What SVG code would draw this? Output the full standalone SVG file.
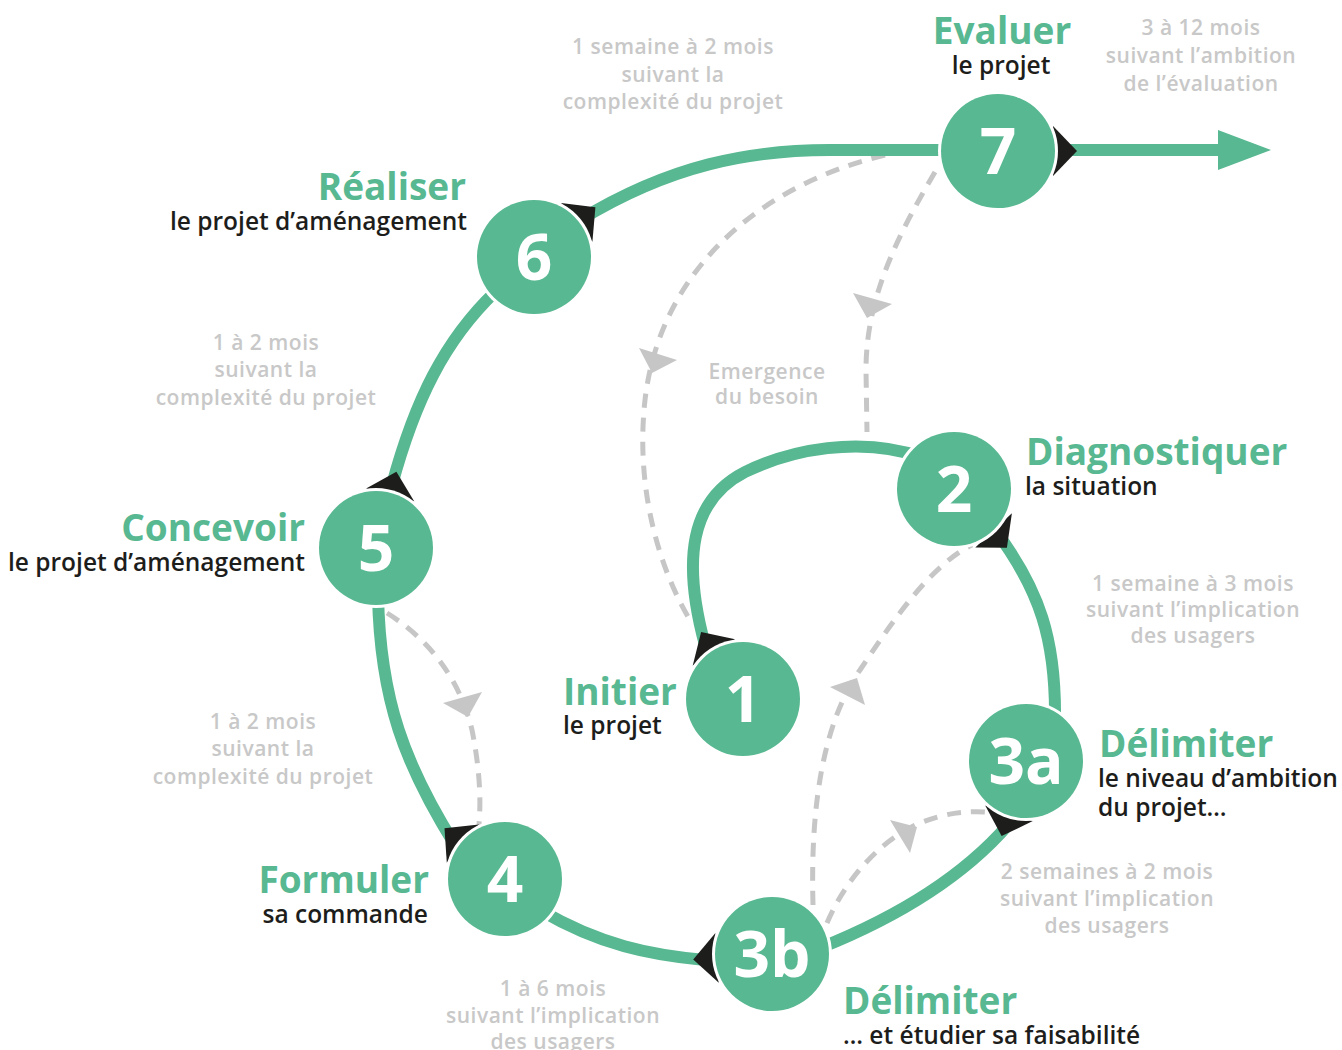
<svg xmlns="http://www.w3.org/2000/svg" width="1342" height="1050" viewBox="0 0 1342 1050">
<style>
.ln{fill:none;stroke:#57b891;stroke-width:12}
.ds{fill:none;stroke:#c6c6c6;stroke-width:5;stroke-dasharray:14 10}
.ah{fill:#c6c6c6}
.bk{fill:#1d1d1b}
.halo{fill:#ffffff}
.disc{fill:#57b891}
.n{font-family:"Open Sans","Noto Sans",sans-serif;font-weight:700;font-size:64px;fill:#ffffff;text-anchor:middle}
.t{font-family:"Open Sans","Noto Sans",sans-serif;font-weight:700;font-size:37px;fill:#57b891}
.s{font-family:"Open Sans","Noto Sans",sans-serif;font-weight:600;font-size:24.5px;fill:#1d1d1b}
.g{font-family:"Open Sans","Noto Sans",sans-serif;font-weight:600;font-size:21px;letter-spacing:0.5px;fill:#c8c8c8;text-anchor:middle}
.r{text-anchor:end}
.c{text-anchor:middle}
</style>
<rect width="1342" height="1050" fill="#ffffff"/>
<g id="connectors">
  <path class="ds" d="M885,155 C760,185 660,270 645,400 C635,490 660,570 690,620"/>
  <polygon class="ah" points="639,348 677,360 652,373"/>
  <path class="ds" d="M935,172 C895,240 866,300 866,370 L867,432"/>
  <polygon class="ah" points="853,293 892,304 867,318"/>
  <path class="ds" d="M813,905 C810,800 825,720 860,670 C890,625 930,565 972,545"/>
  <polygon class="ah" points="830,687 857,678 865,705"/>
  <path class="ds" d="M827,923 C845,880 880,840 920,823 C945,813 965,811 985,812"/>
  <polygon class="ah" points="890,820 917,827 910,853"/>
  <path class="ds" d="M387,613 C430,640 460,680 472,730 C480,770 481,800 479,825"/>
  <polygon class="ah" points="443,703 482,692 468,717"/>

  <path class="ln" d="M705,645 C682,560 690,500 745,472 C790,450 860,435 925,458"/>
  <path class="ln" d="M995,530 C1040,590 1056,640 1055,720"/>
  <path class="ln" d="M1008,825 C960,880 890,920 820,948"/>
  <path class="ln" d="M705,960 C650,955 600,945 540,910"/>
  <path class="ln" d="M455,845 C405,765 380,700 378,595"/>
  <path class="ln" d="M392,485 C415,400 445,340 495,292"/>
  <path class="ln" d="M580,220 C670,165 750,150 830,150 L950,150"/>
  <path class="ln" d="M1060,150 L1225,150"/>
  <polygon fill="#57b891" points="1218,130 1271,150 1218,170"/>

  <polygon class="bk" points="735.1,639.2 692.7,665.7 701.1,632.0"/>
  <polygon class="bk" points="975.3,547.4 1011.9,513.3 1006.9,547.7"/>
  <polygon class="bk" points="985.2,805.6 1032.8,821.0 1001.6,836.1"/>
  <polygon class="bk" points="715.4,932.9 718.8,982.7 693.2,959.5"/>
  <polygon class="bk" points="479,824.4 446.8,862.8 444.5,828.2"/>
  <polygon class="bk" points="414.3,501.4 366.1,488.4 396.4,471.7"/>
  <polygon class="bk" points="592.4,241.8 561,203 595.4,207.3"/>
  <polygon class="bk" points="1053,126 1053,176 1077,151"/>
</g>

<g id="node-1">
  <circle class="halo" cx="743" cy="699" r="60"/>
  <circle class="disc" cx="743" cy="699" r="57"/>
  <text class="n" x="743" y="722">1</text>
  <text class="t" x="563" y="705">Initier</text>
  <text class="s" x="563" y="734">le projet</text>
</g>
<g id="node-2">
  <circle class="halo" cx="954" cy="489" r="60"/>
  <circle class="disc" cx="954" cy="489" r="57"/>
  <text class="n" x="954" y="512">2</text>
  <text class="t" x="1026" y="465">Diagnostiquer</text>
  <text class="s" x="1025" y="495">la situation</text>
</g>
<g id="node-3a">
  <circle class="halo" cx="1026" cy="761" r="60"/>
  <circle class="disc" cx="1026" cy="761" r="57"/>
  <text class="n" x="1026" y="784">3a</text>
  <text class="t" x="1099" y="757">Délimiter</text>
  <text class="s" x="1098" y="787">le niveau d’ambition</text>
  <text class="s" x="1098" y="816">du projet…</text>
</g>
<g id="node-3b">
  <circle class="halo" cx="772" cy="954" r="60"/>
  <circle class="disc" cx="772" cy="954" r="57"/>
  <text class="n" x="772" y="977">3b</text>
  <text class="t" x="843" y="1014">Délimiter</text>
  <text class="s" x="843" y="1044">… et étudier sa faisabilité</text>
</g>
<g id="node-4">
  <circle class="halo" cx="505" cy="879" r="60"/>
  <circle class="disc" cx="505" cy="879" r="57"/>
  <text class="n" x="505" y="902">4</text>
  <text class="t r" x="429" y="893">Formuler</text>
  <text class="s r" x="428" y="923">sa commande</text>
</g>
<g id="node-5">
  <circle class="halo" cx="376" cy="548" r="60"/>
  <circle class="disc" cx="376" cy="548" r="57"/>
  <text class="n" x="376" y="571">5</text>
  <text class="t r" x="305" y="541">Concevoir</text>
  <text class="s r" x="305" y="571">le projet d’aménagement</text>
</g>
<g id="node-6">
  <circle class="halo" cx="534" cy="257" r="60"/>
  <circle class="disc" cx="534" cy="257" r="57"/>
  <text class="n" x="534" y="280">6</text>
  <text class="t r" x="466" y="200">Réaliser</text>
  <text class="s r" x="467" y="230">le projet d’aménagement</text>
</g>
<g id="node-7">
  <circle class="halo" cx="998" cy="151" r="60"/>
  <circle class="disc" cx="998" cy="151" r="57"/>
  <text class="n" x="998" y="174">7</text>
  <text class="t c" x="1002" y="44">Evaluer</text>
  <text class="s c" x="1001" y="74">le projet</text>
</g>

<g id="durations">
  <text class="g" x="673" y="54">1 semaine à 2 mois</text>
  <text class="g" x="673" y="82">suivant la</text>
  <text class="g" x="673" y="109">complexité du projet</text>

  <text class="g" x="1201" y="35">3 à 12 mois</text>
  <text class="g" x="1201" y="63">suivant l’ambition</text>
  <text class="g" x="1201" y="91">de l’évaluation</text>

  <text class="g" x="266" y="350">1 à 2 mois</text>
  <text class="g" x="266" y="377">suivant la</text>
  <text class="g" x="266" y="405">complexité du projet</text>

  <text class="g" x="767" y="379">Emergence</text>
  <text class="g" x="767" y="404">du besoin</text>

  <text class="g" x="1193" y="591">1 semaine à 3 mois</text>
  <text class="g" x="1193" y="617">suivant l’implication</text>
  <text class="g" x="1193" y="643">des usagers</text>

  <text class="g" x="263" y="729">1 à 2 mois</text>
  <text class="g" x="263" y="756">suivant la</text>
  <text class="g" x="263" y="784">complexité du projet</text>

  <text class="g" x="1107" y="879">2 semaines à 2 mois</text>
  <text class="g" x="1107" y="906">suivant l’implication</text>
  <text class="g" x="1107" y="933">des usagers</text>

  <text class="g" x="553" y="996">1 à 6 mois</text>
  <text class="g" x="553" y="1023">suivant l’implication</text>
  <text class="g" x="553" y="1049">des usagers</text>
</g>
</svg>
